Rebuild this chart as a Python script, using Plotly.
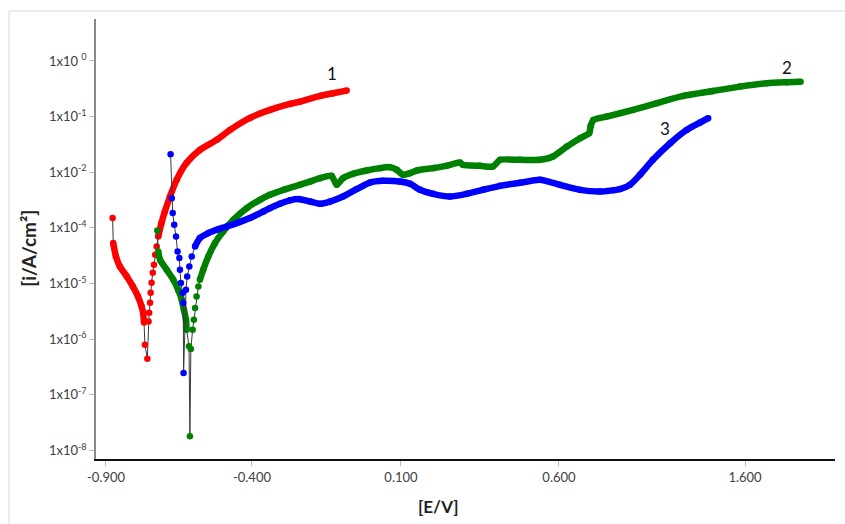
import numpy as np
import plotly.graph_objects as go

# Potentiodynamic polarization curves: potential E (V) vs. log10 of current density
# Curve 1
e1 = [-0.878, -0.876, -0.867, -0.854, -0.831, -0.811, -0.794, -0.782, -0.777, -0.774,
      -0.771, -0.763, -0.759, -0.757, -0.754, -0.752, -0.749, -0.745, -0.741, -0.737,
      -0.732, -0.727, -0.716, -0.705, -0.688, -0.666, -0.633, -0.589, -0.533, -0.489,
      -0.423, -0.357, -0.291, -0.258, -0.191, -0.148, -0.103]
logi1 = [-2.824, -3.273, -3.513, -3.693, -3.872, -4.052, -4.232, -4.411, -4.524, -4.698,
         -5.099, -5.350, -4.680, -4.524, -4.345, -4.165, -3.986, -3.806, -3.662, -3.483,
         -3.334, -3.154, -2.908, -2.706, -2.436, -2.136, -1.831, -1.598, -1.418, -1.239,
         -1.023, -0.880, -0.772, -0.731, -0.628, -0.580, -0.533]

# Curve 2
e2 = [-0.730, -0.727, -0.721, -0.699, -0.677, -0.661, -0.649, -0.642, -0.635, -0.633,
      -0.625, -0.622, -0.619, -0.613, -0.609, -0.605, -0.600, -0.594, -0.589, -0.578,
      -0.561, -0.539, -0.512, -0.478, -0.434, -0.390, -0.357, -0.307, -0.258, -0.224,
      -0.191, -0.153, -0.136, -0.115, -0.082, -0.037, 0.007, 0.040, 0.063, 0.083,
      0.107, 0.129, 0.183, 0.228, 0.272, 0.282, 0.338, 0.381, 0.405, 0.471,
      0.537, 0.580, 0.626, 0.670, 0.700, 0.705, 0.714, 0.758, 0.845, 0.924,
      1.011, 1.110, 1.199, 1.288, 1.354, 1.400]
logi2 = [-3.047, -3.424, -3.573, -3.752, -3.932, -4.111, -4.291, -4.470, -4.650, -4.829,
         -5.129, -6.745, -5.176, -4.829, -4.650, -4.440, -4.232, -4.052, -3.932, -3.752,
         -3.513, -3.273, -3.065, -2.855, -2.645, -2.495, -2.406, -2.307, -2.226, -2.167,
         -2.106, -2.065, -2.226, -2.106, -2.029, -1.969, -1.926, -1.908, -1.957, -2.047,
         -2.016, -1.969, -1.926, -1.885, -1.826, -1.867, -1.885, -1.898, -1.777, -1.777,
         -1.777, -1.718, -1.539, -1.388, -1.298, -1.167, -1.059, -1.000, -0.880, -0.759,
         -0.628, -0.539, -0.461, -0.400, -0.382, -0.372]

# Curve 3
e3 = [-0.686, -0.682, -0.679, -0.674, -0.668, -0.663, -0.657, -0.655, -0.652, -0.646,
      -0.644, -0.643, -0.635, -0.631, -0.624, -0.616, -0.605, -0.589, -0.561, -0.533,
      -0.500, -0.467, -0.423, -0.379, -0.357, -0.324, -0.291, -0.258, -0.224, -0.191,
      -0.158, -0.115, -0.070, -0.026, 0.017, 0.073, 0.107, 0.140, 0.183, 0.239,
      0.294, 0.348, 0.405, 0.471, 0.537, 0.603, 0.669, 0.736, 0.802, 0.835,
      0.868, 0.911, 0.968, 1.023, 1.067, 1.094]
logi3 = [-1.675, -2.465, -2.734, -2.944, -3.154, -3.424, -3.542, -3.752, -3.991, -4.165,
         -4.350, -5.607, -4.111, -3.872, -3.693, -3.513, -3.334, -3.183, -3.093, -3.034,
         -2.975, -2.914, -2.824, -2.706, -2.645, -2.567, -2.504, -2.483, -2.526, -2.567,
         -2.526, -2.436, -2.303, -2.185, -2.154, -2.167, -2.208, -2.316, -2.388, -2.436,
         -2.388, -2.316, -2.244, -2.190, -2.136, -2.226, -2.316, -2.346, -2.303, -2.226,
         -2.047, -1.777, -1.478, -1.239, -1.108, -1.029]

# Curve numbers and where they sit (E, log10 i)
curve_names = ["1", "2", "3"]
label_e = [-0.151, 1.354, 0.951]
label_logi = [-0.221, -0.113, -1.208]

# Axis ticks
x_tick_pos = [-0.9, -0.4166, 0.0768, 0.6, 1.216]
x_tick_text = ["-0.900", "-0.400", "0.100", "0.600", "1.600"]
y_tick_pos = [1, 1e-1, 1e-2, 1e-3, 1e-4, 1e-5, 1e-6, 1e-7]
y_tick_text = ["1x10 <sup>0</sup>", "1x10<sup>-1</sup>", "1x10<sup>-2</sup>",
               "1x10<sup>-4</sup>", "1x10<sup>-5</sup>", "1x10<sup>-6</sup>",
               "1x10<sup>-7</sup>", "1x10<sup>-8</sup>"]

colors = ["#ff0000", "#008000", "#0000ff"]
series = [(e1, logi1), (e2, logi2), (e3, logi3)]
# index ranges where the measured points lie so close they merge into a band
dense = [[(1, 10), (21, None)], [(1, 10), (18, None)], [(16, None)]]

fig = go.Figure()
for (e, li), col, spans in zip(series, colors, dense):
    e = np.array(e)
    i = 10 ** np.array(li)
    # thin connecting line through every point
    fig.add_trace(go.Scatter(x=e, y=i, mode="lines",
                             line=dict(color="#3a3a3a", width=1), showlegend=False,
                             hoverinfo="skip"))
    for a, b in spans:
        fig.add_trace(go.Scatter(x=e[a:b], y=i[a:b], mode="lines",
                                 line=dict(color=col, width=6.5, shape="spline", smoothing=0.6),
                                 showlegend=False, hoverinfo="skip"))
    fig.add_trace(go.Scatter(x=e, y=i, mode="markers",
                             marker=dict(color=col, size=6.5), showlegend=False))

for name, xe, yl in zip(curve_names, label_e, label_logi):
    fig.add_annotation(x=xe, y=yl, text=name, showarrow=False,
                       xanchor="center", yanchor="middle",
                       font=dict(family="Lato, Arial", size=17, color="#111111"))

# axis titles
fig.add_annotation(xref="paper", yref="paper", x=(438 - 96) / 739, y=(459.5 - 507) / 440.5,
                   xanchor="center", yanchor="middle",
                   text="<b>[E/V]</b>", showarrow=False,
                   font=dict(family="Lato, Arial", size=17, color="#222222"))
fig.add_annotation(xref="paper", yref="paper", x=(29 - 96) / 739, y=(459.5 - 249) / 440.5,
                   xanchor="center", yanchor="middle",
                   text="<b>[i/A/cm²]</b>", textangle=-90, showarrow=False,
                   font=dict(family="Lato, Arial", size=19, color="#222222"))

# light frame around the whole chart
fig.add_shape(type="rect", xref="paper", yref="paper",
              x0=(9 - 96) / 739, x1=(860 - 96) / 739,
              y0=(459.5 - 540) / 440.5, y1=(459.5 - 11) / 440.5,
              line=dict(color="#d9d9d9", width=1), fillcolor="rgba(0,0,0,0)", layer="below")

fig.update_xaxes(range=[-0.933, 1.514], tickmode="array", tickvals=x_tick_pos,
                 ticktext=x_tick_text, showgrid=False, zeroline=False,
                 showline=True, linecolor="#111111", linewidth=2,
                 ticks="outside", ticklen=5, tickcolor="#bbbbbb", tickwidth=1,
                 tickfont=dict(family="Lato, Arial", size=13, color="#404040"))
fig.update_yaxes(type="log", range=[-7.153, 0.754], tickmode="array",
                 tickvals=y_tick_pos, ticktext=y_tick_text, showgrid=False,
                 zeroline=False, showline=True, linecolor="#888888", linewidth=1.5,
                 ticks="outside", ticklen=5, tickcolor="#bbbbbb", tickwidth=1,
                 tickfont=dict(family="Lato, Arial", size=13, color="#404040"))

fig.update_layout(width=845, height=524, autosize=False,
                  margin=dict(l=96, r=10, t=19, b=65),
                  paper_bgcolor="white", plot_bgcolor="white")

fig.write_html("out.html")
